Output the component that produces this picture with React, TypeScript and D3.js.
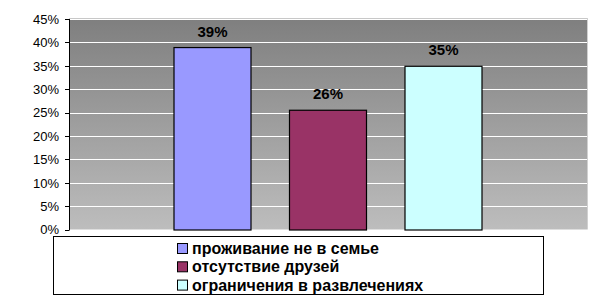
import React from "react";
import * as d3 from "d3";

const series = ["проживание не в семье", "отсутствие друзей", "ограничения в развлечениях"];
const values = [0.39, 0.256, 0.35];
const colors = ["#9999ff", "#993366", "#ccffff"];
const yTicks = [0, 0.05, 0.1, 0.15, 0.2, 0.25, 0.3, 0.35, 0.4, 0.45];

const W = 612, H = 301;
const plot = { left: 69, right: 587, top: 19, bottom: 229.5 };

export default function App() {
  const y = d3.scaleLinear().domain([0, 0.45]).range([plot.bottom, plot.top]);
  const pw = plot.right - plot.left;
  const bw = 78, gap = 37.5;
  const groupW = series.length * bw + (series.length - 1) * gap;
  const x = d3.scaleBand<string>().domain(series)
    .range([plot.left + (pw - groupW) / 2 - gap / 2, plot.left + (pw + groupW) / 2 + gap / 2])
    .paddingInner(gap / (bw + gap)).paddingOuter(gap / 2 / (bw + gap));
  const pct = d3.format(".0%");
  const font = "'Liberation Sans', Arial, sans-serif";
  return (
    <svg width={W} height={H} style={{ position: "absolute", left: 0, top: 0 }} fontFamily={font}>
      <defs>
        <linearGradient id="bg" x1="0" y1="0" x2="0" y2="1">
          <stop offset="0" stopColor="#7f7f7f" />
          <stop offset="1" stopColor="#bdbdbd" />
        </linearGradient>
      </defs>
      <rect x={0} y={0} width={W} height={H} fill="#fff" />
      <rect x={plot.left} y={plot.top} width={pw} height={plot.bottom - plot.top} fill="url(#bg)" />
      <line x1={plot.left} x2={plot.right} y1={plot.top - 0.5} y2={plot.top - 0.5} stroke="#c8c8c8" />
      <line x1={plot.right + 0.5} x2={plot.right + 0.5} y1={plot.top - 1} y2={plot.bottom} stroke="#d0d0d0" />
      {yTicks.filter(t => t > 0).map(t => (
        <line key={t} x1={plot.left} x2={plot.right} y1={Math.round(y(t)) + 0.5} y2={Math.round(y(t)) + 0.5} stroke="#fff" strokeWidth={1.2} />
      ))}
      {series.map((s, i) => (
        <g key={s}>
          <rect x={x(s)! + 0.5} y={y(values[i]) + 0.5} width={x.bandwidth() - 1} height={plot.bottom - y(values[i])}
            fill={colors[i]} stroke="#000" strokeWidth={1.2} />
          <text x={x(s)! + x.bandwidth() / 2} y={y(values[i]) - 10.5} textAnchor="middle" fontSize={15} fontWeight="bold" fill="#000">
            {pct(values[i])}
          </text>
        </g>
      ))}
      <line x1={plot.left + 0.5} x2={plot.left + 0.5} y1={plot.top} y2={plot.bottom + 1} stroke="#000" />
      {yTicks.map(t => (
        <g key={t}>
          <line x1={plot.left - 4} x2={plot.left} y1={Math.round(y(t)) + 0.5} y2={Math.round(y(t)) + 0.5} stroke="#000" />
          <text x={59} y={y(t) + 4.8} textAnchor="end" fontSize={13} fill="#000">{pct(t)}</text>
        </g>
      ))}
      <rect x={53.5} y={236.5} width={490} height={58} fill="#fff" stroke="#000" />
      {series.map((s, i) => (
        <g key={s}>
          <rect x={177.5} y={243.5 + i * 18.3} width={10} height={10} fill={colors[i]} stroke="#000" />
          <text x={192} y={254 + i * 18.3} fontSize={16} fontWeight="bold" fill="#000">{s}</text>
        </g>
      ))}
    </svg>
  );
}
